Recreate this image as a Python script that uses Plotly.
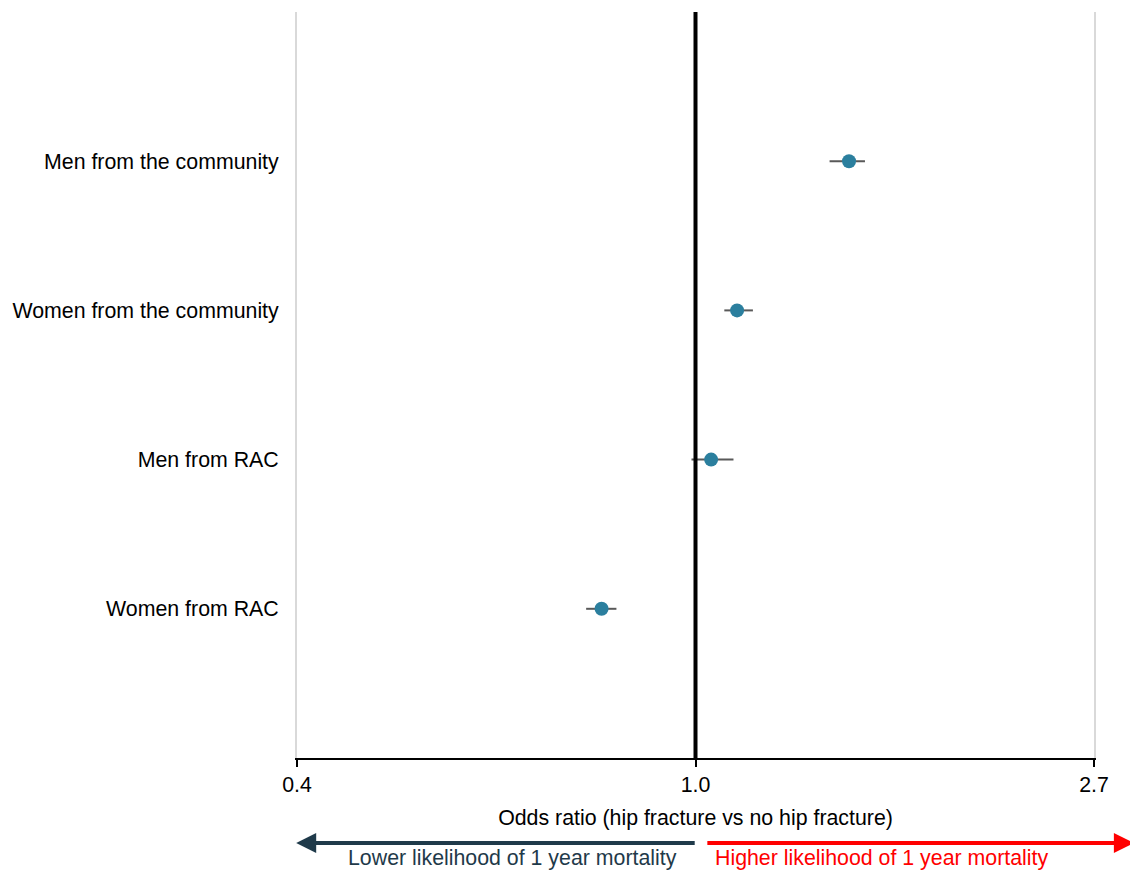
import math
import plotly.graph_objects as go

# Data (bottom to top)
groups = ["Women from RAC", "Men from RAC", "Women from the community", "Men from the community"]
odds_ratio = [0.79, 1.04, 1.11, 1.47]
ci_lower = [0.76, 0.99, 1.075, 1.40]
ci_upper = [0.82, 1.10, 1.155, 1.53]

tick_values = [math.exp(-1), 1.0, math.exp(1)]
tick_labels = ["0.4", "1.0", "2.7"]

FONT = "Liberation Sans, Arial, sans-serif"
FS = 21.33

fig = go.Figure()
fig.add_trace(go.Scatter(
    x=odds_ratio,
    y=groups,
    mode="markers",
    marker=dict(color="#2b7f9e", size=14),
    error_x=dict(
        type="data",
        symmetric=False,
        array=[u - o for u, o in zip(ci_upper, odds_ratio)],
        arrayminus=[o - l for o, l in zip(odds_ratio, ci_lower)],
        color="#595959",
        thickness=2,
        width=0,
    ),
    showlegend=False,
    cliponaxis=False,
))

fig.add_shape(type="line", xref="x", yref="paper", x0=1.0, x1=1.0, y0=0, y1=1,
              line=dict(color="black", width=4), layer="above")

fig.update_layout(
    width=1130, height=866,
    margin=dict(l=289, r=44, t=4, b=116),
    plot_bgcolor="white", paper_bgcolor="white",
    font=dict(family=FONT, size=FS, color="black"),
    xaxis=dict(
        type="log",
        range=[-1 / math.log(10), 1 / math.log(10)],
        tickvals=tick_values,
        ticktext=tick_labels,
        showgrid=True, gridcolor="#d9d9d9", gridwidth=2,
        showline=True, linecolor="black", linewidth=1.5,
        ticks="outside", ticklen=7, tickcolor="black", tickwidth=1.5,
        zeroline=False, automargin=False,
        title=dict(text="Odds ratio (hip fracture vs no hip fracture)", standoff=14,
                   font=dict(size=FS)),
    ),
    yaxis=dict(
        type="category",
        categoryorder="array", categoryarray=groups,
        range=[-1, 4],
        showgrid=False, zeroline=False, automargin=False,
        showline=True, mirror=True, linecolor="#d9d9d9", linewidth=2,
        ticks="", ticklabelstandoff=12,
    ),
)

arrow_y = -0.114
fig.add_annotation(x=-0.001, y=arrow_y, xref="paper", yref="paper", text="",
                   showarrow=True, ax=400, ay=0, arrowhead=2, arrowsize=1,
                   arrowwidth=4, arrowcolor="#1f3a4a", standoff=0, startstandoff=0)
fig.add_annotation(x=1.050, y=arrow_y, xref="paper", yref="paper", text="",
                   showarrow=True, ax=-428, ay=0, arrowhead=2, arrowsize=1,
                   arrowwidth=4, arrowcolor="#ff0000", standoff=0, startstandoff=0)
fig.add_annotation(x=0.271, y=-0.134, xref="paper", yref="paper",
                   text="Lower likelihood of 1 year mortality", showarrow=False,
                   font=dict(color="#1f3a4a", size=FS), xanchor="center", yanchor="middle")
fig.add_annotation(x=0.734, y=-0.134, xref="paper", yref="paper",
                   text="Higher likelihood of 1 year mortality", showarrow=False,
                   font=dict(color="#ff0000", size=FS), xanchor="center", yanchor="middle")

fig.write_html("out.html")
